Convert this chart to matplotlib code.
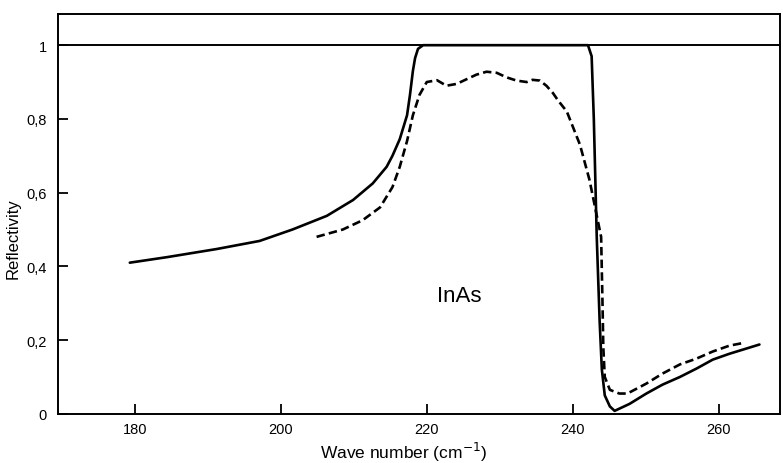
import matplotlib.pyplot as plt
from matplotlib.ticker import FixedLocator, FixedFormatter

# Reflectivity of InAs
solid_wave = [179.3, 184.4, 191.2, 197.1, 201.6, 206.3, 209.9, 212.6, 214.5,
              215.3, 216.3, 217.3, 217.7, 218.1, 218.4, 218.8, 219.5, 242.1,
              242.6, 242.9, 243.3, 243.7, 244.0, 244.4, 245.1, 245.75, 247.8,
              250.1, 252.3, 254.7, 257.0, 259.2, 261.5, 263.8, 265.6]
solid_refl = [0.41, 0.425, 0.447, 0.469, 0.50, 0.537, 0.58, 0.625, 0.67,
              0.70, 0.745, 0.81, 0.865, 0.93, 0.965, 0.99, 1.0, 1.0,
              0.97, 0.80, 0.48, 0.25, 0.12, 0.05, 0.02, 0.008, 0.027,
              0.055, 0.079, 0.10, 0.123, 0.147, 0.163, 0.177, 0.188]

dash_wave = [204.9, 208.5, 211.2, 213.6, 215.3, 216.3, 217.3, 218.1, 219.0,
             220.0, 221.4, 222.7, 224.1, 225.5, 226.8, 228.2, 229.6, 230.9,
             232.3, 233.7, 234.5, 235.5, 236.4, 237.3, 238.0, 239.2, 241.0,
             242.3, 243.9, 244.1, 244.2, 244.4, 245.1, 246.4, 247.5, 250.1,
             252.3, 254.7, 257.0, 259.2, 261.5, 263.6]
dash_refl = [0.48, 0.50, 0.525, 0.56, 0.615, 0.67, 0.74, 0.81, 0.865,
             0.90, 0.905, 0.89, 0.895, 0.908, 0.92, 0.928, 0.925, 0.913,
             0.904, 0.90, 0.906, 0.904, 0.89, 0.87, 0.85, 0.82, 0.73,
             0.635, 0.48, 0.29, 0.18, 0.10, 0.065, 0.055, 0.055, 0.082,
             0.109, 0.134, 0.15, 0.169, 0.185, 0.193]

x_ticks = [180, 200, 220, 240, 260]
y_ticks = [0, 0.2, 0.4, 0.6, 0.8, 1.0]
y_labels = ['0', '0,2', '0,4', '0,6', '0,8', '1']

plt.rcParams['font.family'] = ['Liberation Sans', 'DejaVu Sans']

fig = plt.figure(figsize=(7.83, 4.64), dpi=100)
ax = fig.add_axes([0.074, 0.106, 0.922, 0.862])

ax.axhline(1.0, color='black', lw=1.4)
ax.plot(solid_wave, solid_refl, color='black', lw=1.9,
        solid_joinstyle='round', solid_capstyle='round')
ax.plot(dash_wave, dash_refl, color='black', lw=1.9, dashes=(3.2, 1.6),
        dash_joinstyle='round')

ax.text(224.4, 0.32, 'InAs', fontsize=16, ha='center', va='center')

ax.set_xlim(169.45, 268.4)
ax.set_ylim(0, 1.085)
ax.xaxis.set_major_locator(FixedLocator(x_ticks))
ax.yaxis.set_major_locator(FixedLocator(y_ticks))
ax.yaxis.set_major_formatter(FixedFormatter(y_labels))
ax.tick_params(direction='in', length=7, width=1.3, labelsize=10.5)
ax.tick_params(axis='x', pad=6)
ax.tick_params(axis='y', pad=8)

for side in ['left', 'bottom', 'top', 'right']:
    ax.spines[side].set_linewidth(1.4)

ax.set_xlabel('Wave number (cm$^{-1}$)', fontsize=12.5)
ax.xaxis.set_label_coords(0.479, -0.066)
ax.set_ylabel('Reflectivity', fontsize=12)
ax.yaxis.set_label_coords(-0.052, 0.44)

fig.savefig('out.png', dpi=100)
